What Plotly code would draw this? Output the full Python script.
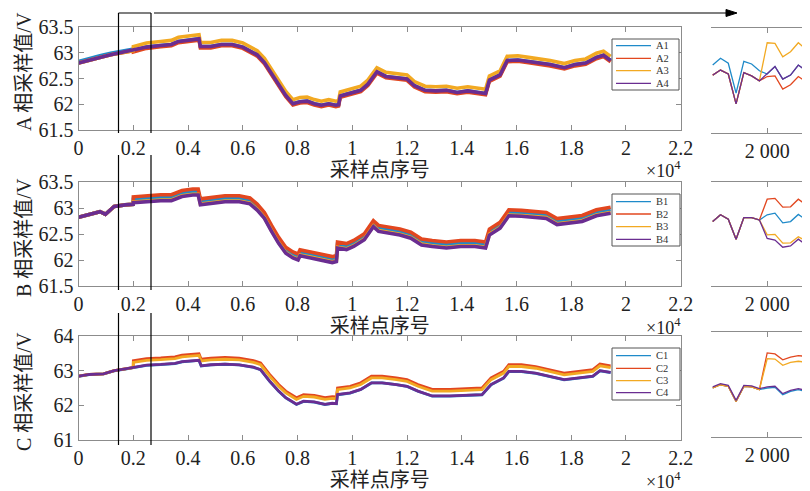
import plotly.graph_objects as go

# ---------------- data ----------------
X_TICK_VALS = [0, 2000, 4000, 6000, 8000, 10000, 12000, 14000, 16000, 18000, 20000, 22000]
X_TICK_TEXT = ["0", "0.2", "0.4", "0.6", "0.8", "1", "1.2", "1.4", "1.6", "1.8", "2", "2.2"]
AB_Y_TICKS = [61.5, 62, 62.5, 63, 63.5]
AB_Y_TEXT = ["61.5", "62", "62.5", "63", "63.5"]
C_Y_TICKS = [61, 62, 63, 64]
C_Y_TEXT = ["61", "62", "63", "64"]
SWITCH_SAMPLE = 2000  # sample where the channels separate

# Panel A: trend of the A4 line (sample index, volts)
A_X = [0, 390, 780, 1175, 1435, 1760, 1995, 2000, 2480, 3000, 3390, 3650, 4040, 4300, 4400, 4450,
       4830, 5220, 5610, 6000, 6260, 6525, 6790, 7050, 7310, 7570, 7830, 8090, 8350, 8610, 8870, 9140,
       9400, 9500, 9560, 9920, 10310, 10570, 10900, 11230, 11610, 12000, 12270, 12660, 13050, 13440, 13830, 14220,
       14610, 14870, 15010, 15400, 15660, 16050, 16440, 16830, 17230, 17750, 18140, 18530, 18920, 19180, 19440]
A_BASE = [62.80, 62.86, 62.91, 62.96, 62.99, 63.02, 63.04, 63.04, 63.11, 63.14, 63.16, 63.22, 63.24, 63.27, 63.27, 63.12,
          63.12, 63.16, 63.16, 63.11, 63.04, 62.96, 62.81, 62.59, 62.36, 62.17, 62.01, 62.05, 62.06, 62.01, 61.98, 62.01,
          61.98, 61.99, 62.16, 62.21, 62.27, 62.39, 62.63, 62.54, 62.51, 62.49, 62.36, 62.27, 62.26, 62.27, 62.23, 62.26,
          62.23, 62.21, 62.47, 62.57, 62.85, 62.86, 62.83, 62.80, 62.77, 62.71, 62.77, 62.80, 62.91, 62.95, 62.85]
A_OFFSET_BEFORE = {"A1": 0.03, "A2": 0.0, "A3": 0.0, "A4": 0.0}
A_OFFSET_AFTER = {"A1": 0.0, "A2": -0.025, "A3": 0.08, "A4": 0.0}

# Panel B: trend of the B1 line
B_X = [0, 390, 780, 980, 1300, 1700, 1995, 2000, 2480, 3000, 3390, 3780, 4170, 4370, 4450, 4830,
       5350, 5870, 6260, 6525, 6790, 7050, 7310, 7570, 7830, 8020, 8090, 8480, 8870, 9270, 9420, 9460,
       9790, 10050, 10440, 10770, 10960, 11350, 11740, 12140, 12530, 12920, 13440, 13960, 14480, 14870, 15010, 15400,
       15720, 16180, 16700, 17090, 17480, 17880, 18400, 18920, 19440]
B_BASE = [62.87, 62.93, 62.98, 62.93, 63.08, 63.11, 63.12, 63.17, 63.19, 63.21, 63.21, 63.29, 63.32, 63.32, 63.13, 63.16,
          63.19, 63.19, 63.15, 63.03, 62.87, 62.62, 62.39, 62.20, 62.11, 62.07, 62.15, 62.11, 62.07, 62.02, 62.04, 62.30,
          62.27, 62.33, 62.46, 62.71, 62.62, 62.59, 62.55, 62.49, 62.36, 62.33, 62.30, 62.33, 62.33, 62.30, 62.55, 62.68,
          62.92, 62.91, 62.89, 62.87, 62.75, 62.78, 62.81, 62.92, 62.97]
B_OFFSET_BEFORE = {"B1": -0.05, "B2": -0.05, "B3": -0.05, "B4": -0.05}
B_OFFSET_AFTER = {"B1": 0.0, "B2": 0.045, "B3": -0.055, "B4": -0.07}

# Panel C: trend of the C4 line
C_X = [0, 390, 910, 1300, 1700, 1995, 2000, 2480, 3000, 3520, 3780, 4300, 4400, 4480, 4830, 5350,
       5870, 6390, 6650, 6980, 7310, 7570, 7960, 8220, 8610, 9000, 9270, 9420, 9460, 9920, 10310, 10700,
       11090, 11610, 12000, 12400, 12920, 13570, 14220, 14740, 15070, 15530, 15720, 16180, 16700, 17220, 17740, 18270,
       18790, 19050, 19440]
C_BASE = [62.84, 62.89, 62.91, 63.00, 63.05, 63.09, 63.10, 63.16, 63.18, 63.21, 63.26, 63.29, 63.30, 63.14, 63.17, 63.19,
          63.17, 63.10, 63.03, 62.70, 62.41, 62.22, 62.03, 62.12, 62.10, 62.03, 62.06, 62.05, 62.31, 62.36, 62.46, 62.65,
          62.65, 62.60, 62.55, 62.41, 62.27, 62.27, 62.29, 62.31, 62.60, 62.79, 62.98, 62.98, 62.93, 62.84, 62.74, 62.79,
          62.84, 63.00, 62.95]
C_OFFSET_BEFORE = {"C1": -0.005, "C2": 0.0, "C3": 0.0, "C4": 0.0}
C_OFFSET_AFTER = {"C1": -0.005, "C2": 0.19, "C3": 0.14, "C4": 0.0}

# Zoomed views around sample 2000
INSET_X = [1993, 1994, 1995, 1996, 1997, 1998, 1999, 2000, 2001, 2002, 2003, 2004, 2005]
A_INSET = {
    "A1": [63.030, 63.049, 63.035, 62.952, 63.040, 63.033, 63.014, 63.005, 63.026, 62.991, 63.002, 63.030, 63.014],
    "A2": [63.002, 63.016, 63.005, 62.922, 63.009, 63.000, 62.986, 62.998, 63.000, 62.963, 62.975, 62.998, 62.984],
    "A3": [63.002, 63.016, 63.005, 62.922, 63.009, 63.000, 62.986, 63.092, 63.090, 63.053, 63.067, 63.092, 63.074],
    "A4": [63.002, 63.016, 63.005, 62.922, 63.009, 63.000, 62.986, 63.005, 63.026, 62.991, 63.002, 63.030, 63.014],
}
B_INSET = {
    "B1": [63.116, 63.133, 63.122, 63.072, 63.126, 63.126, 63.120, 63.133, 63.137, 63.113, 63.116, 63.134, 63.120],
    "B2": [63.116, 63.133, 63.122, 63.072, 63.126, 63.126, 63.120, 63.172, 63.174, 63.152, 63.153, 63.172, 63.158],
    "B3": [63.116, 63.133, 63.122, 63.072, 63.126, 63.126, 63.120, 63.083, 63.084, 63.062, 63.063, 63.078, 63.068],
    "B4": [63.116, 63.133, 63.122, 63.072, 63.126, 63.126, 63.120, 63.074, 63.070, 63.052, 63.055, 63.072, 63.058],
}
C_INSET = {
    "C1": [63.110, 63.129, 63.119, 63.031, 63.119, 63.116, 63.100, 63.110, 63.114, 63.071, 63.090, 63.100, 63.090],
    "C2": [63.110, 63.129, 63.119, 63.031, 63.119, 63.116, 63.100, 63.316, 63.310, 63.276, 63.292, 63.300, 63.296],
    "C3": [63.110, 63.129, 63.119, 63.031, 63.119, 63.116, 63.100, 63.282, 63.280, 63.243, 63.261, 63.267, 63.261],
    "C4": [63.116, 63.135, 63.125, 63.037, 63.125, 63.122, 63.106, 63.116, 63.120, 63.077, 63.096, 63.106, 63.096],
}

COLORS = ["#1f8ac9", "#e2471f", "#f2a922", "#6a2d91"]

# ---------------- figure ----------------
PAGE_W, PAGE_H = 810, 491
OX, OY = 8, 8                      # default page margin of the html body
FW, FH = PAGE_W - OX, PAGE_H - OY  # figure size so that it ends at the window edge

SERIF = "Liberation Serif, Times New Roman, Noto Sans CJK SC, serif"
AX_COLOR = "#8c8c8c"


def px(x):
    return (x - OX) / FW


def py(y):
    return 1 - (y - OY) / FH


MAIN_X0, MAIN_X1 = 78.6, 680.7
INSET_X0 = 711
INSET_RANGE = [1992.78, 2005.5]

panels = [
    dict(x=A_X, base=A_BASE, before=A_OFFSET_BEFORE, after=A_OFFSET_AFTER, inset=A_INSET,
         yr=[61.5, 63.5], ytv=AB_Y_TICKS, ytt=AB_Y_TEXT, top=27, bot=130,
         itop=28, ibot=133, iyr=[62.841, 63.133], title="A 相采样值/V", tcy=72, lw=3.6,
         leg=(612, 39, 679, 90), rows=[45.7, 58.3, 70.7, 83.3]),
    dict(x=B_X, base=B_BASE, before=B_OFFSET_BEFORE, after=B_OFFSET_AFTER, inset=B_INSET,
         yr=[61.5, 63.5], ytv=AB_Y_TICKS, ytt=AB_Y_TEXT, top=182, bot=286,
         itop=182, ibot=286, iyr=[62.955, 63.215], title="B 相采样值/V", tcy=238, lw=3.6,
         leg=(612, 194, 680, 246), rows=[201.7, 214, 226.7, 239.3]),
    dict(x=C_X, base=C_BASE, before=C_OFFSET_BEFORE, after=C_OFFSET_AFTER, inset=C_INSET,
         yr=[61, 64], ytv=C_Y_TICKS, ytt=C_Y_TEXT, top=336, bot=440,
         itop=332, ibot=437, iyr=[62.822, 63.439], title="C 相采样值/V", tcy=392, lw=2.8,
         leg=(612, 348, 680, 400), rows=[355.7, 368.3, 380.7, 392.7]),
]

fig = go.Figure()
layout = {}
annotations = []
shapes = []

for i, p in enumerate(panels):
    n = i + 1
    m = i + 4
    xs = "" if n == 1 else str(n)
    names = list(p["inset"].keys())
    for k, name in enumerate(names):
        ys = [b + (p["before"][name] if xv < SWITCH_SAMPLE else p["after"][name])
              for xv, b in zip(p["x"], p["base"])]
        fig.add_trace(go.Scatter(x=p["x"], y=ys, mode="lines", name=name, showlegend=False,
                                 line=dict(color=COLORS[k], width=p["lw"]),
                                 xaxis="x" + xs, yaxis="y" + xs))
    for k, name in enumerate(names):
        fig.add_trace(go.Scatter(x=INSET_X, y=p["inset"][name], mode="lines", name=name,
                                 showlegend=False, line=dict(color=COLORS[k], width=1.3),
                                 xaxis="x" + str(m), yaxis="y" + str(m)))

    common = dict(showline=True, linecolor=AX_COLOR, linewidth=1, mirror="ticks",
                  ticks="inside", ticklen=5, tickcolor=AX_COLOR, showgrid=False, zeroline=False,
                  automargin=False,
                  tickfont=dict(family=SERIF, size=20, color="#222"))
    layout["xaxis" + xs] = dict(common, domain=[px(MAIN_X0), px(MAIN_X1)], anchor="y" + xs,
                                range=[0, 22000], tickvals=X_TICK_VALS, ticktext=X_TICK_TEXT,
                                title=dict(text="采样点序号", standoff=0,
                                           font=dict(family=SERIF, size=20, color="#222")))
    layout["yaxis" + xs] = dict(common, domain=[py(p["bot"]), py(p["top"])], anchor="x" + xs,
                                range=p["yr"], tickvals=p["ytv"], ticktext=p["ytt"])
    layout["xaxis" + str(m)] = dict(common, domain=[px(INSET_X0), 1.0], anchor="y" + str(m),
                                    range=INSET_RANGE, tickvals=[2000], ticktext=["2 000"])
    layout["yaxis" + str(m)] = dict(domain=[py(p["ibot"]), py(p["itop"])], anchor="x" + str(m),
                                    range=p["iyr"], visible=False, automargin=False)

    # y-axis title
    annotations.append(dict(x=px(24), y=py(p["tcy"]), xref="paper", yref="paper", text=p["title"],
                            textangle=-90, showarrow=False, xanchor="center", yanchor="middle",
                            font=dict(family=SERIF, size=20, color="#222")))
    # x exponent
    annotations.append(dict(x=px(683), y=py(p["bot"] + 40), xref="paper", yref="paper",
                            text="×10<sup>4</sup>", showarrow=False, xanchor="right", yanchor="middle",
                            font=dict(family=SERIF, size=18, color="#222")))

    # legend box
    lx0, ly0, lx1, ly1 = p["leg"]
    shapes.append(dict(type="rect", xref="paper", yref="paper", x0=px(lx0), x1=px(lx1),
                       y0=py(ly1), y1=py(ly0), line=dict(color="#555", width=1), fillcolor="white"))
    for k, (name, yy) in enumerate(zip(names, p["rows"])):
        shapes.append(dict(type="line", xref="paper", yref="paper", x0=px(616), x1=px(651),
                           y0=py(yy), y1=py(yy), line=dict(color=COLORS[k], width=1.3)))
        annotations.append(dict(x=px(654), y=py(yy), xref="paper", yref="paper", text=name,
                                showarrow=False, xanchor="left", yanchor="middle",
                                font=dict(family=SERIF, size=10.5, color="#333")))

# zoom window marker and arrow
for xx in (118.5, 151):
    for (ya, yb) in ((13, 133), (155, 290), (313, 445)):
        shapes.append(dict(type="line", xref="paper", yref="paper", x0=px(xx), x1=px(xx),
                           y0=py(ya), y1=py(yb), line=dict(color="black", width=1.2)))
shapes.append(dict(type="line", xref="paper", yref="paper", x0=px(118.5), x1=px(151),
                   y0=py(13), y1=py(13), line=dict(color="black", width=1.2)))
shapes.append(dict(type="line", xref="paper", yref="paper", x0=px(154), x1=px(728),
                   y0=py(13), y1=py(13), line=dict(color="black", width=1.2)))
shapes.append(dict(type="path", xref="paper", yref="paper",
                   path="M %f,%f L %f,%f L %f,%f Z" % (px(726), py(9.5), px(737), py(13), px(726), py(16.5)),
                   line=dict(color="black", width=1), fillcolor="black"))

fig.update_layout(**layout)
fig.update_layout(width=FW, height=FH, margin=dict(l=0, r=0, t=0, b=0, autoexpand=False),
                  paper_bgcolor="white", plot_bgcolor="white", showlegend=False,
                  annotations=annotations, shapes=shapes)

fig.write_html("out.html")
